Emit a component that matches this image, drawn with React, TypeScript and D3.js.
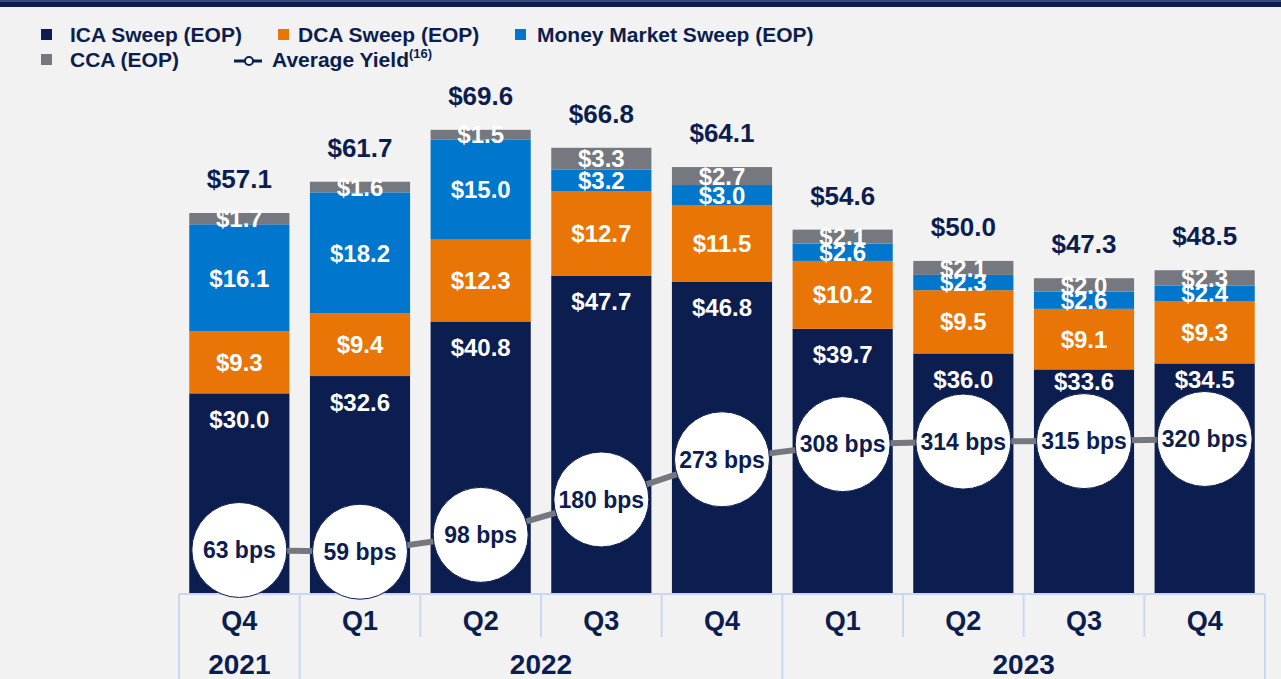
import React from "react";
import * as d3 from "d3";

const quarters = ["Q4", "Q1", "Q2", "Q3", "Q4", "Q1", "Q2", "Q3", "Q4"];
const yearGroups = [
  { label: "2021", start: 0, count: 1 },
  { label: "2022", start: 1, count: 4 },
  { label: "2023", start: 5, count: 4 },
];
const icaSweep = [30.0, 32.6, 40.8, 47.7, 46.8, 39.7, 36.0, 33.6, 34.5];
const dcaSweep = [9.3, 9.4, 12.3, 12.7, 11.5, 10.2, 9.5, 9.1, 9.3];
const mmSweep = [16.1, 18.2, 15.0, 3.2, 3.0, 2.6, 2.3, 2.6, 2.4];
const ccaBal = [1.7, 1.6, 1.5, 3.3, 2.7, 2.1, 2.1, 2.0, 2.3];
const totals = [57.1, 61.7, 69.6, 66.8, 64.1, 54.6, 50.0, 47.3, 48.5];
const avgYield = [63, 59, 98, 180, 273, 308, 314, 315, 320];

const seriesNames = ["ICA Sweep (EOP)", "DCA Sweep (EOP)", "Money Market Sweep (EOP)", "CCA (EOP)"];
const seriesData = [icaSweep, dcaSweep, mmSweep, ccaBal];

const NAVY = "#0c1d4f";
const ORANGE = "#e97506";
const BLUE = "#0076cc";
const GRAY = "#75787f";
const colors = [NAVY, ORANGE, BLUE, GRAY];
const BG = "#f2f2f2";
const AXIS = "#c8d8f3";
const FONT = "'Liberation Sans', Arial, sans-serif";

export default function App() {
  const W = 1281;
  const H = 679;
  const keys = ["ica", "dca", "mm", "cca"];
  const rows = quarters.map((q, i) => ({
    idx: String(i),
    ica: icaSweep[i],
    dca: dcaSweep[i],
    mm: mmSweep[i],
    cca: ccaBal[i],
  }));
  const stack = d3.stack<any>().keys(keys)(rows);

  const x = d3
    .scaleBand<string>()
    .domain(quarters.map((_, i) => String(i)))
    .range([179, 1265])
    .paddingInner(0.17)
    .paddingOuter(0.085);
  const step = x.step();
  const bandStart = (i: number) => (x(String(i)) as number) - x.paddingOuter() * step;
  const cx = (i: number) => (x(String(i)) as number) + x.bandwidth() / 2;

  const y = d3.scaleLinear().domain([0, 70]).range([593, 593 - 70 * 6.655]);
  const yy = d3.scaleLinear().domain([0, 320]).range([577.2, 577.2 - 320 * 0.432]);
  const R = 47.5;

  const line = d3
    .line<number>()
    .x((_, i) => cx(i))
    .y((d) => yy(d));

  const axisTop = 594;
  const qBottom = 637;
  const left = 179;
  const right = 1265;

  const legendItems = [
    { name: seriesNames[0], color: colors[0], sx: 41, tx: 70, row: 0 },
    { name: seriesNames[1], color: colors[1], sx: 278, tx: 298, row: 0 },
    { name: seriesNames[2], color: colors[2], sx: 515, tx: 537, row: 0 },
    { name: seriesNames[3], color: colors[3], sx: 41, tx: 70, row: 1 },
  ];
  const rowBase = [42, 67];

  const labelY = (si: number, d: any, i: number) =>
    si === 0
      ? Math.min(y(d[1]) + 26, yy(avgYield[i]) - R - 12)
      : (y(d[0]) + y(d[1])) / 2;

  return (
    <svg
      width={W}
      height={H}
      style={{ position: "absolute", left: 0, top: 0, background: BG, fontFamily: FONT }}
    >
      <rect x={0} y={0} width={W} height={H} fill={BG} />
      <rect x={0} y={0} width={W} height={2} fill="#3a4a7a" />
      <rect x={0} y={2} width={W} height={5} fill={NAVY} />

      {/* legend */}
      {legendItems.map((l) => (
        <g key={l.name}>
          <rect x={l.sx} y={rowBase[l.row] - 13} width={11} height={11} fill={l.color} />
          <text x={l.tx} y={rowBase[l.row]} fontSize={21} fontWeight="bold" fill={NAVY}>
            {l.name}
          </text>
        </g>
      ))}
      <line x1={234} x2={262} y1={61} y2={61} stroke={NAVY} strokeWidth={3} />
      <circle cx={249} cy={61} r={4} fill="#fff" stroke={NAVY} strokeWidth={2} />
      <text x={272} y={67} fontSize={21} fontWeight="bold" fill={NAVY}>
        Average Yield
        <tspan fontSize={13} dy={-9}>(16)</tspan>
      </text>

      {/* bars */}
      {stack.map((s, si) =>
        s.map((d, i) => (
          <rect
            key={`${si}-${i}`}
            x={x(String(i))}
            y={y(d[1])}
            width={x.bandwidth()}
            height={y(d[0]) - y(d[1])}
            fill={colors[si]}
          />
        ))
      )}
      {/* segment labels */}
      {stack.map((s, si) =>
        s.map((d, i) => (
          <text
            key={`l${si}-${i}`}
            x={cx(i)}
            y={labelY(si, d, i)}
            dy="0.36em"
            textAnchor="middle"
            fontSize={24}
            fontWeight="bold"
            fill="#ffffff"
          >
            {"$" + seriesData[si][i].toFixed(1)}
          </text>
        ))
      )}
      {/* totals */}
      {totals.map((t, i) => (
        <text
          key={`t${i}`}
          x={cx(i)}
          y={y(stack[3][i][1]) - 25}
          textAnchor="middle"
          fontSize={26}
          fontWeight="bold"
          fill={NAVY}
        >
          {"$" + t.toFixed(1)}
        </text>
      ))}

      {/* category axis */}
      <line x1={left} x2={right} y1={axisTop} y2={axisTop} stroke={AXIS} strokeWidth={2} />
      {quarters.map((_, i) =>
        i === 0 ? null : (
          <line
            key={`v${i}`}
            x1={bandStart(i)}
            x2={bandStart(i)}
            y1={axisTop}
            y2={yearGroups.some((g) => g.start === i) ? H : qBottom}
            stroke={AXIS}
            strokeWidth={2}
          />
        )
      )}
      <line x1={left} x2={left} y1={axisTop} y2={H} stroke={AXIS} strokeWidth={2} />
      <line x1={right} x2={right} y1={axisTop} y2={H} stroke={AXIS} strokeWidth={2} />
      {quarters.map((q, i) => (
        <text
          key={`q${i}`}
          x={cx(i)}
          y={630}
          textAnchor="middle"
          fontSize={27}
          fontWeight="bold"
          fill={NAVY}
        >
          {q}
        </text>
      ))}
      {yearGroups.map((g) => (
        <text
          key={g.label}
          x={(bandStart(g.start) + bandStart(g.start) + g.count * step) / 2}
          y={674}
          textAnchor="middle"
          fontSize={28}
          fontWeight="bold"
          fill={NAVY}
        >
          {g.label}
        </text>
      ))}

      {/* yield line */}
      <path d={line(avgYield) || ""} fill="none" stroke={GRAY} strokeWidth={6} />
      {avgYield.map((v, i) => (
        <g key={`c${i}`}>
          <circle cx={cx(i)} cy={yy(v)} r={R} fill="#ffffff" stroke={NAVY} strokeWidth={1} />
          <text
            x={cx(i)}
            y={yy(v)}
            dy="0.36em"
            textAnchor="middle"
            fontSize={23}
            fontWeight="bold"
            fill={NAVY}
          >
            {v + " bps"}
          </text>
        </g>
      ))}
    </svg>
  );
}
